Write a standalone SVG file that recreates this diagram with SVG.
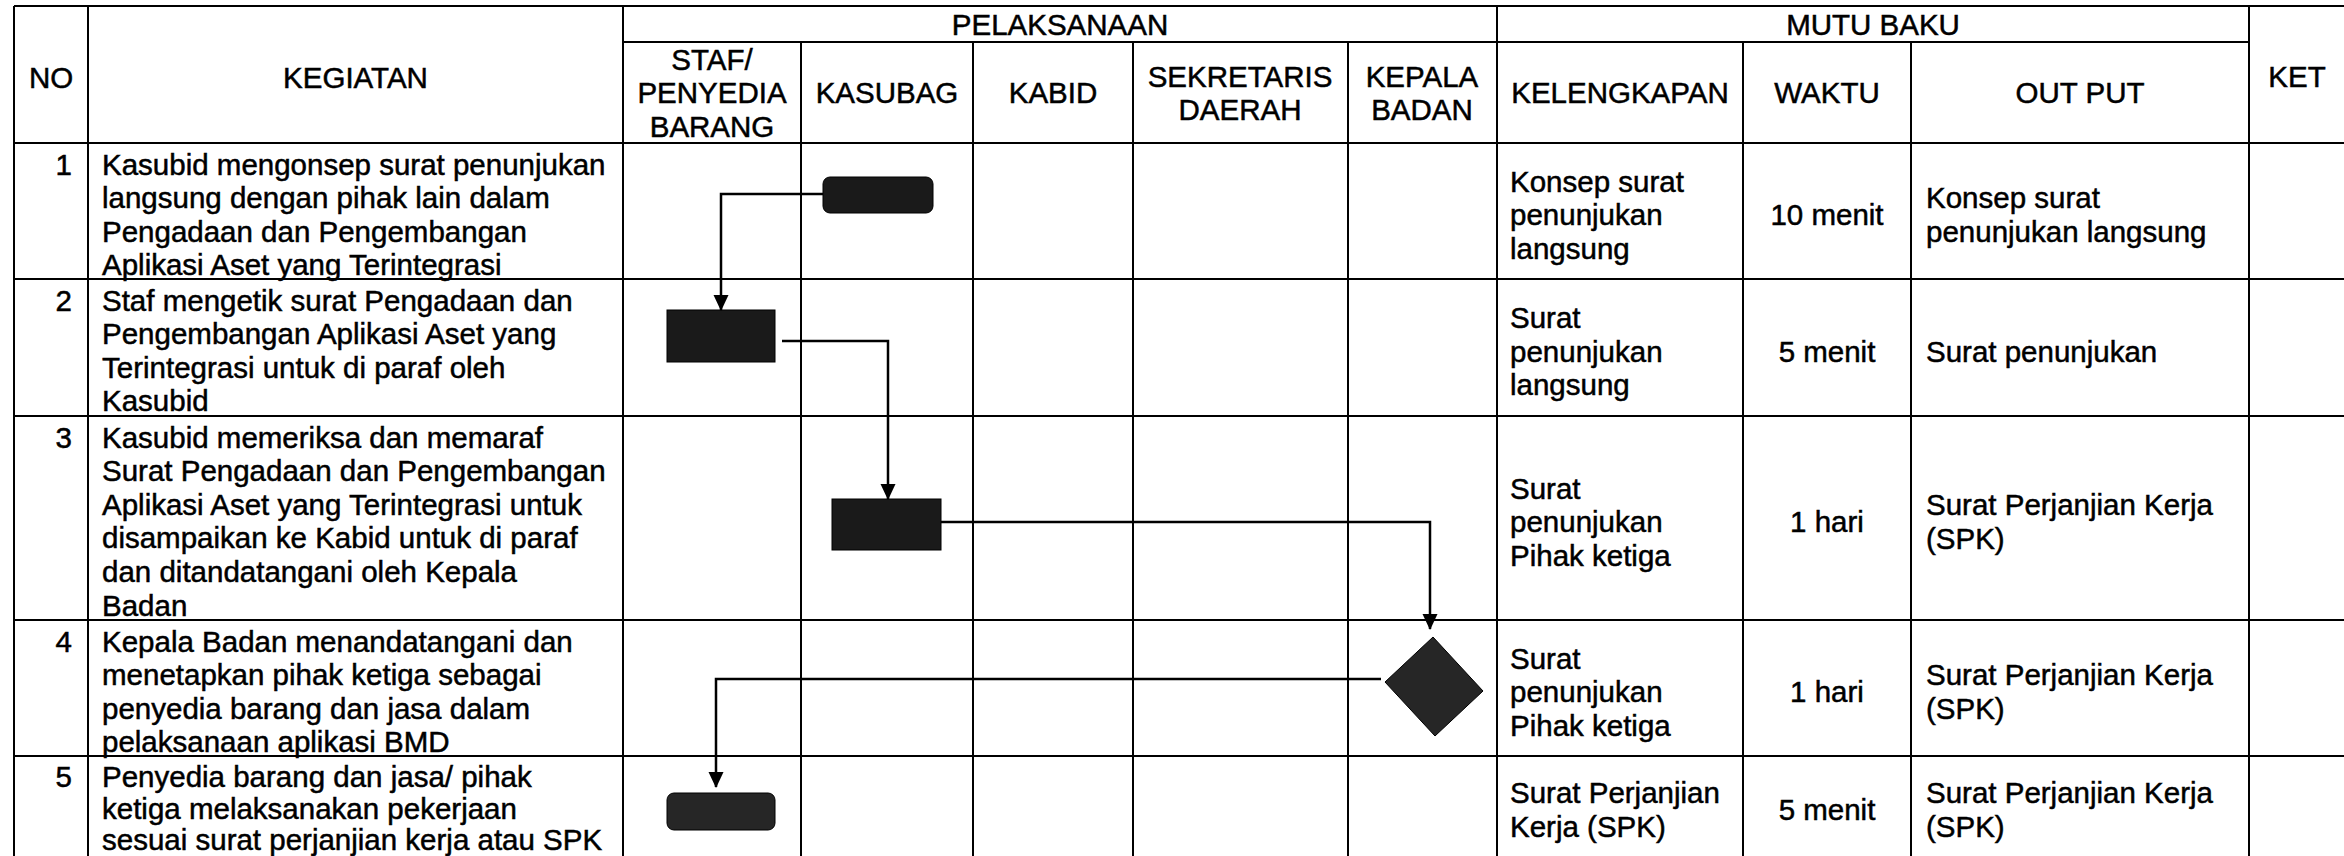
<svg xmlns="http://www.w3.org/2000/svg" width="2344" height="856" viewBox="0 0 2344 856">
<style>
.grid{stroke:#000;stroke-width:2;fill:none}
.t{font-family:"Liberation Sans",Arial,sans-serif;font-size:29.5px;fill:#000;stroke:#000;stroke-width:0.5}
.c{text-anchor:middle}
.r{text-anchor:end}
.box{fill:#1a1a1a;stroke:#000;stroke-width:1}
.box2{fill:#262626;stroke:#000;stroke-width:1}
.conn{stroke:#000;stroke-width:2.5;fill:none;marker-end:url(#ah)}
</style>
<defs>
<marker id="ah" markerUnits="userSpaceOnUse" markerWidth="16" markerHeight="16" refX="15" refY="8" orient="auto">
<path d="M0,0.5 L16,8 L0,15.5 z" fill="#000"/>
</marker>
</defs>
<rect width="2344" height="856" fill="#fff"/>
<g id="table" class="grid">
<path d="M14,6H2344M623,42H2249M14,143H2344M14,279H2344M14,416H2344M14,620H2344M14,756H2344"/>
<path d="M14,6V856M88,6V856M623,6V856M1497,6V856M2249,6V856M801,42V856M973,42V856M1133,42V856M1348,42V856M1743,42V856M1911,42V856"/>
</g>
<g id="header" class="t">
<text class="c" x="51" y="88">NO</text>
<text class="c" x="355.5" y="88">KEGIATAN</text>
<text class="c" x="1060" y="35">PELAKSANAAN</text>
<text class="c" x="1873" y="35">MUTU BAKU</text>
<text class="c" x="2297" y="87">KET</text>
<text class="c" x="712" y="69.5">STAF/</text>
<text class="c" x="712" y="103">PENYEDIA</text>
<text class="c" x="712" y="136.5">BARANG</text>
<text class="c" x="887" y="103">KASUBAG</text>
<text class="c" x="1053" y="103">KABID</text>
<text class="c" x="1240" y="86.5">SEKRETARIS</text>
<text class="c" x="1240" y="120">DAERAH</text>
<text class="c" x="1422" y="86.5">KEPALA</text>
<text class="c" x="1422" y="120">BADAN</text>
<text class="c" x="1620" y="103">KELENGKAPAN</text>
<text class="c" x="1827" y="103">WAKTU</text>
<text class="c" x="2080" y="103">OUT PUT</text>
</g>
<g id="row1" class="t">
<text class="r" x="72" y="174.5">1</text>
<text x="102" y="174.5">Kasubid mengonsep surat penunjukan</text>
<text x="102" y="208.1">langsung dengan pihak lain dalam</text>
<text x="102" y="241.7">Pengadaan dan Pengembangan</text>
<text x="102" y="275.3">Aplikasi Aset yang Terintegrasi</text>
<text x="1510" y="191.6">Konsep surat</text>
<text x="1510" y="225.2">penunjukan</text>
<text x="1510" y="258.8">langsung</text>
<text class="c" x="1827" y="225.2">10 menit</text>
<text x="1926" y="208.4">Konsep surat</text>
<text x="1926" y="242">penunjukan langsung</text>
</g>
<g id="row2" class="t">
<text class="r" x="72" y="310.5">2</text>
<text x="102" y="310.5">Staf mengetik surat Pengadaan dan</text>
<text x="102" y="344.1">Pengembangan Aplikasi Aset yang</text>
<text x="102" y="377.7">Terintegrasi untuk di paraf oleh</text>
<text x="102" y="411.3">Kasubid</text>
<text x="1510" y="328.1">Surat</text>
<text x="1510" y="361.7">penunjukan</text>
<text x="1510" y="395.3">langsung</text>
<text class="c" x="1827" y="361.7">5 menit</text>
<text x="1926" y="361.7">Surat penunjukan</text>
</g>
<g id="row3" class="t">
<text class="r" x="72" y="447.5">3</text>
<text x="102" y="447.5">Kasubid memeriksa dan memaraf</text>
<text x="102" y="481.1">Surat Pengadaan dan Pengembangan</text>
<text x="102" y="514.7">Aplikasi Aset yang Terintegrasi untuk</text>
<text x="102" y="548.3">disampaikan ke Kabid untuk di paraf</text>
<text x="102" y="581.9">dan ditandatangani oleh Kepala</text>
<text x="102" y="615.5">Badan</text>
<text x="1510" y="498.6">Surat</text>
<text x="1510" y="532.2">penunjukan</text>
<text x="1510" y="565.8">Pihak ketiga</text>
<text class="c" x="1827" y="532.2">1 hari</text>
<text x="1926" y="515.4">Surat Perjanjian Kerja</text>
<text x="1926" y="549">(SPK)</text>
</g>
<g id="row4" class="t">
<text class="r" x="72" y="651.5">4</text>
<text x="102" y="651.5">Kepala Badan menandatangani dan</text>
<text x="102" y="685.1">menetapkan pihak ketiga sebagai</text>
<text x="102" y="718.7">penyedia barang dan jasa dalam</text>
<text x="102" y="752.3">pelaksanaan aplikasi BMD</text>
<text x="1510" y="668.6">Surat</text>
<text x="1510" y="702.2">penunjukan</text>
<text x="1510" y="735.8">Pihak ketiga</text>
<text class="c" x="1827" y="702.2">1 hari</text>
<text x="1926" y="685.4">Surat Perjanjian Kerja</text>
<text x="1926" y="719">(SPK)</text>
</g>
<g id="row5" class="t">
<text class="r" x="72" y="786.5">5</text>
<text x="102" y="786.5">Penyedia barang dan jasa/ pihak</text>
<text x="102" y="818.5">ketiga melaksanakan pekerjaan</text>
<text x="102" y="849.5">sesuai surat perjanjian kerja atau SPK</text>
<text x="1510" y="803">Surat Perjanjian</text>
<text x="1510" y="836.6">Kerja (SPK)</text>
<text class="c" x="1827" y="820">5 menit</text>
<text x="1926" y="803">Surat Perjanjian Kerja</text>
<text x="1926" y="836.6">(SPK)</text>
</g>
<g id="node1"><rect class="box" x="823" y="177" width="110" height="36" rx="7"/></g>
<g id="node2"><rect class="box" x="667" y="310" width="108" height="52"/></g>
<g id="node3"><rect class="box" x="832" y="499" width="109" height="51"/></g>
<g id="node4"><polygon class="box2" points="1433,637 1483,691 1435,736 1385,682"/></g>
<g id="node5"><rect class="box2" x="667" y="793" width="108" height="37" rx="7"/></g>
<g id="connectors">
<path class="conn" d="M823,194H721V310"/>
<path class="conn" d="M782,341H888V499"/>
<path class="conn" d="M941,522H1430V629"/>
<path class="conn" d="M1381,679H716V787"/>
</g>
</svg>
